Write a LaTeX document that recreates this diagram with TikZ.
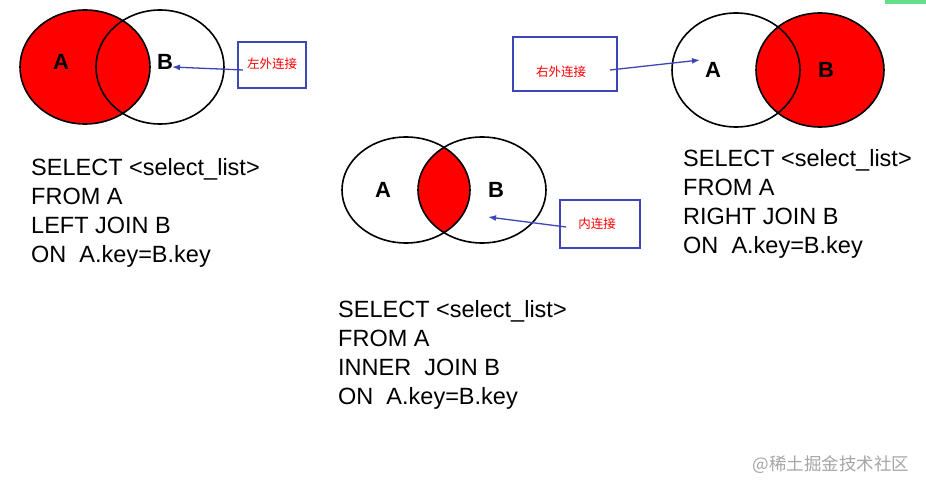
\documentclass[tikz,border=0pt]{standalone}
\usepackage{fontspec}
\usetikzlibrary{arrows.meta}
\setmainfont{Liberation Sans}
\newfontfamily\cjk{Noto Sans CJK SC}
\begin{document}
\begin{tikzpicture}[x=1pt,y=-1pt,
  circ/.style={line width=1.6pt,black},
  lbl/.style={font=\fontsize{22}{22}\selectfont\bfseries},
  box/.style={draw={rgb,255:red,60;green,70;blue,180},line width=1.5pt,minimum width=68pt,minimum height=46pt,inner sep=0pt},
  cn/.style={text=red,font=\cjk\fontsize{12.5}{12.5}\selectfont},
  arr/.style={-{Latex[length=8pt,width=6pt]},line width=1.3pt,draw={rgb,255:red,60;green,70;blue,180}},
  sql/.style={align=left,anchor=north west,inner sep=0pt,font=\fontsize{23.5}{29}\selectfont}]
\useasboundingbox (0,0) rectangle (926,492);
\fill[white] (0,0) rectangle (926,492);
\fill[green!55!teal!60] (885,0) rectangle (926,4);
% left
\fill[red] (85,67) ellipse [x radius=65,y radius=57];
\draw[circ] (85,67) ellipse [x radius=65,y radius=57];
\draw[circ] (160,67) ellipse [x radius=64,y radius=57];
\node[lbl] (la) at (61,62) {A};
\node[lbl] (lb) at (165,62) {B};
\node[box] (lbox) at (272,65) {};
\node[cn] at (272,64) {左外连接};
\coordinate (lend) at (172,67);
\draw[arr] (243,70) -- (lend);
\node[sql] (lsql) at (31,158) {SELECT <select\_list>\\FROM A\\LEFT JOIN B\\ON\ \ A.key=B.key};
% middle
\begin{scope}
\clip (406,190) ellipse [x radius=64,y radius=53];
\fill[red] (482,190) ellipse [x radius=64,y radius=53];
\end{scope}
\draw[circ] (406,190) ellipse [x radius=64,y radius=53];
\draw[circ] (482,190) ellipse [x radius=64,y radius=53];
\node[lbl] (ma) at (383,190) {A};
\node[lbl] (mb) at (496,190) {B};
\node[box,minimum width=80pt,minimum height=48pt] (mbox) at (600,224) {};
\node[cn] at (597,224) {内连接};
\coordinate (mend) at (488,217);
\draw[arr] (566,227) -- (mend);
\node[sql] (msql) at (338,300) {SELECT <select\_list>\\FROM A\\INNER\ \ JOIN B\\ON\ \ A.key=B.key};
% right
\fill[red] (820,70) ellipse [x radius=64,y radius=57];
\draw[circ] (736,70) ellipse [x radius=64,y radius=57];
\draw[circ] (820,70) ellipse [x radius=64,y radius=57];
\node[lbl] (ra) at (713,70) {A};
\node[lbl] (rb) at (826,70) {B};
\node[box,minimum width=104pt,minimum height=54pt] (rbox) at (565,64) {};
\node[cn] at (561,72) {右外连接};
\coordinate (rend) at (700,60);
\draw[arr] (610,70) -- (rend);
\node[sql] (rsql) at (683,149) {SELECT <select\_list>\\FROM A\\RIGHT JOIN B\\ON\ \ A.key=B.key};
\node[text=gray!70,font=\cjk\fontsize{17.5}{17.5}\selectfont] (wm) at (831,465) {@稀土掘金技术社区};
\end{tikzpicture}
\end{document}
